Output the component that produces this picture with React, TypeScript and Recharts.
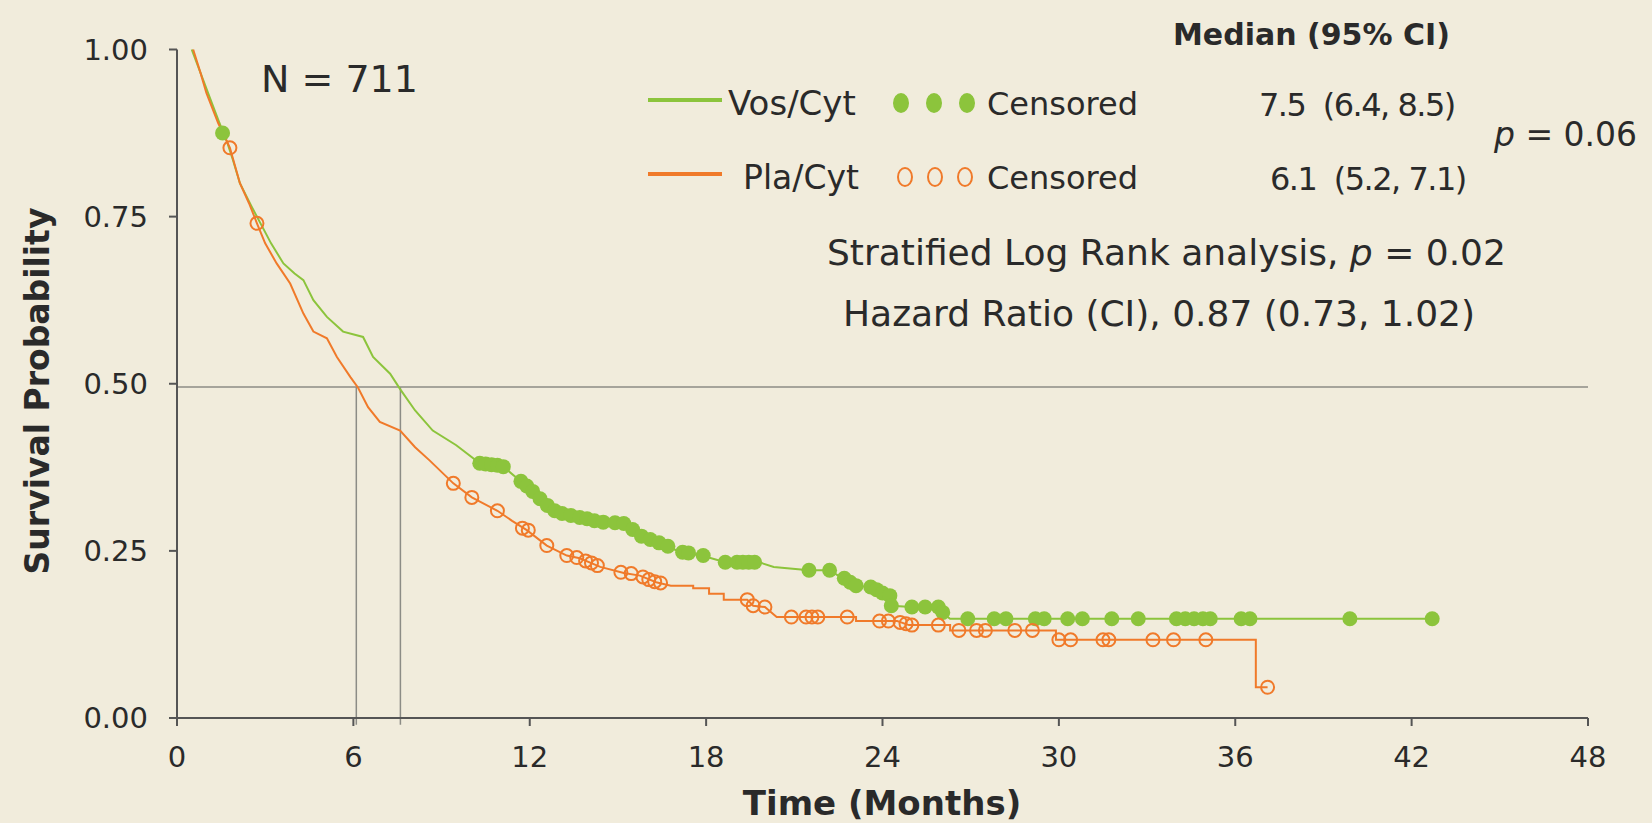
import React from 'react';
import { ComposedChart, Line, Scatter, XAxis, YAxis, ReferenceLine } from 'recharts';

// Vos/Cyt Kaplan-Meier curve (months, survival)
const vosT = [0.5, 0.8, 1.1, 1.4, 1.7, 1.9, 2.14, 2.54, 2.9, 3.2, 3.62, 4.0, 4.3, 4.64, 5.1, 5.65, 6.33, 6.67, 7.25, 7.59, 8.1, 8.7, 9.5, 10.3, 11.1, 11.67, 12.35, 12.9, 13.7, 14.4, 15.2, 15.75, 16.3, 16.8, 17.1, 17.85, 18.65, 19.8, 20.3, 21.5, 22.2, 22.56, 23.0, 23.6, 23.9, 24.26, 24.3, 25.0, 25.9, 26.07, 26.3, 42.7];
const vosS = [1.0, 0.965, 0.93, 0.895, 0.862, 0.835, 0.8, 0.765, 0.735, 0.71, 0.68, 0.665, 0.655, 0.625, 0.6, 0.578, 0.57, 0.54, 0.515, 0.492, 0.46, 0.43, 0.408, 0.381, 0.376, 0.355, 0.328, 0.308, 0.3, 0.293, 0.291, 0.273, 0.263, 0.255, 0.248, 0.243, 0.233, 0.233, 0.226, 0.221, 0.221, 0.211, 0.198, 0.196, 0.188, 0.183, 0.168, 0.166, 0.166, 0.156, 0.1485, 0.1485];

// Vos/Cyt censored
const vosCensT = [1.55, 10.3, 10.5, 10.7, 10.9, 11.1, 11.7, 11.9, 12.1, 12.35, 12.6, 12.85, 13.1, 13.4, 13.7, 13.95, 14.2, 14.5, 14.9, 15.2, 15.5, 15.8, 16.1, 16.4, 16.7, 17.2, 17.4, 17.9, 18.65, 19.05, 19.25, 19.45, 19.65, 21.5, 22.2, 22.7, 22.9, 23.1, 23.6, 23.8, 24.0, 24.25, 24.3, 25.0, 25.45, 25.9, 26.05, 26.9, 27.8, 28.2, 29.2, 29.5, 30.3, 30.8, 31.8, 32.7, 34.0, 34.3, 34.6, 34.9, 35.15, 36.2, 36.5, 39.9, 42.7];
const vosCensS = [0.875, 0.381, 0.38, 0.379, 0.378, 0.376, 0.354, 0.347, 0.339, 0.328, 0.318, 0.31, 0.306, 0.303, 0.3, 0.298, 0.295, 0.293, 0.292, 0.291, 0.282, 0.272, 0.267, 0.262, 0.257, 0.248, 0.247, 0.243, 0.233, 0.233, 0.233, 0.233, 0.233, 0.221, 0.221, 0.209, 0.203, 0.198, 0.196, 0.192, 0.187, 0.183, 0.168, 0.166, 0.166, 0.166, 0.158, 0.1485, 0.1485, 0.1485, 0.1485, 0.1485, 0.1485, 0.1485, 0.1485, 0.1485, 0.1485, 0.1485, 0.1485, 0.1485, 0.1485, 0.1485, 0.1485, 0.1485, 0.1485];

// Pla/Cyt Kaplan-Meier curve
const plaT = [0.55, 0.8, 1.0, 1.4, 1.8, 2.14, 2.45, 2.72, 3.0, 3.39, 3.85, 4.3, 4.64, 5.1, 5.44, 5.9, 6.16, 6.5, 6.9, 7.59, 8.1, 8.6, 9.4, 10.03, 10.9, 11.4, 11.9, 12.58, 13.26, 13.7, 14.4, 15.2, 15.75, 16.3, 16.8, 17.56, 17.56, 18.1, 18.1, 18.6, 18.6, 19.4, 19.6, 20.0, 20.4, 23.1, 23.1, 24.5, 24.9, 26.3, 26.3, 29.9, 29.9, 36.7, 36.7, 37.1];
const plaS = [1.0, 0.965, 0.935, 0.89, 0.853, 0.8, 0.77, 0.74, 0.71, 0.68, 0.65, 0.605, 0.578, 0.568, 0.54, 0.51, 0.494, 0.465, 0.443, 0.43, 0.405, 0.385, 0.351, 0.33, 0.31, 0.295, 0.281, 0.258, 0.243, 0.239, 0.226, 0.217, 0.213, 0.203, 0.198, 0.198, 0.194, 0.194, 0.186, 0.186, 0.177, 0.177, 0.168, 0.166, 0.151, 0.151, 0.145, 0.145, 0.139, 0.139, 0.131, 0.131, 0.117, 0.117, 0.046, 0.046];

// Pla/Cyt censored
const plaCensT = [1.8, 2.72, 9.4, 10.03, 10.9, 11.75, 11.95, 12.58, 13.26, 13.6, 13.9, 14.1, 14.3, 15.1, 15.45, 15.85, 16.05, 16.25, 16.45, 19.4, 19.6, 20.0, 20.9, 21.4, 21.6, 21.8, 22.8, 23.9, 24.2, 24.6, 24.8, 25.0, 25.9, 26.6, 27.2, 27.5, 28.5, 29.1, 30.0, 30.4, 31.5, 31.7, 33.2, 33.9, 35.0, 37.1];
const plaCensS = [0.853, 0.74, 0.351, 0.33, 0.31, 0.284, 0.281, 0.258, 0.243, 0.24, 0.235, 0.232, 0.228, 0.218, 0.216, 0.211, 0.207, 0.204, 0.202, 0.177, 0.168, 0.166, 0.151, 0.151, 0.151, 0.151, 0.151, 0.145, 0.145, 0.143, 0.141, 0.139, 0.139, 0.131, 0.131, 0.131, 0.131, 0.131, 0.117, 0.117, 0.117, 0.117, 0.117, 0.117, 0.117, 0.046];

const xTicks = [0, 6, 12, 18, 24, 30, 36, 42, 48];
const yTicks = [0, 0.25, 0.5, 0.75, 1];
const medianLevel = 0.495;
const medians = [6.1, 7.6];

const GREEN = '#8cc43c';
const ORANGE = '#f07a2a';
const BG = '#f1ecdc';
const INK = '#2a2a2a';
const FONT = '"DejaVu Sans", Verdana, sans-serif';

const zip = (t: number[], s: number[]) => t.map((v, i) => ({ t: v, s: s[i] }));

const Txt = ({ x, y, size = 32, bold = false, center = false, rotate = false, spacing = 0, children }: any) => (
    <div
        style={{
            position: 'absolute',
            left: x,
            top: y,
            transform: `translate(${center ? '-50%' : '0'}, -50%)${rotate ? ' rotate(-90deg)' : ''}`,
            fontFamily: FONT,
            fontSize: size,
            fontWeight: bold ? 'bold' : 'normal',
            letterSpacing: spacing,
            color: INK,
            whiteSpace: 'nowrap',
            lineHeight: 1,
        }}
    >
        {children}
    </div>
);

// legend marker (slightly oval, as in the slide)
const Dot = ({ x, y, filled }: { x: number; y: number; filled: boolean }) => (
    <div
        style={{
            position: 'absolute',
            left: x - 8,
            top: y - 10,
            width: 16,
            height: 20,
            boxSizing: 'border-box',
            borderRadius: '50%',
            background: filled ? GREEN : 'transparent',
            border: filled ? 'none' : `2px solid ${ORANGE}`,
        }}
    />
);

const Swatch = ({ y, color }: { y: number; color: string }) => (
    <div style={{ position: 'absolute', left: 640, top: y - 2, width: 74, height: 4, background: color }} />
);

export default function App() {
    const vosLine = zip(vosT, vosS);
    const plaLine = zip(plaT, plaS);
    const vosCens = zip(vosCensT, vosCensS);
    const plaCens = zip(plaCensT, plaCensS);

    const tick = { fill: INK, fontSize: 29, fontFamily: FONT };

    return (
        <div style={{ position: 'fixed', left: 0, top: 0, width: 1652, height: 823, background: BG, overflow: 'hidden' }}>
            <div style={{ position: 'absolute', left: 8, top: 8, width: 1636, height: 807 }}>
                <ComposedChart width={1636} height={807} margin={{ top: 41.5, right: 56, bottom: 37, left: 0 }}>
                    <XAxis
                        type="number"
                        dataKey="t"
                        domain={[0, 48]}
                        ticks={xTicks}
                        allowDataOverflow
                        height={60}
                        stroke="#555"
                        strokeWidth={2}
                        tickSize={8}
                        tickMargin={20}
                        tick={tick}
                    />
                    <YAxis
                        type="number"
                        dataKey="s"
                        domain={[0, 1]}
                        ticks={yTicks}
                        width={169}
                        stroke="#555"
                        strokeWidth={2}
                        tickSize={8}
                        tickMargin={21}
                        tick={tick}
                        tickFormatter={(v: number) => v.toFixed(2)}
                    />
                    <ReferenceLine segment={[{ x: 0, y: medianLevel }, { x: 48, y: medianLevel }]} stroke="#8c8c86" strokeWidth={1.5} />
                    {medians.map((m) => (
                        <ReferenceLine key={m} segment={[{ x: m, y: -0.01 }, { x: m, y: medianLevel }]} ifOverflow="visible" stroke="#8c8c86" strokeWidth={1.5} />
                    ))}
                    <Line data={vosLine} dataKey="s" type="linear" stroke={GREEN} strokeWidth={2} dot={false} isAnimationActive={false} />
                    <Line data={plaLine} dataKey="s" type="linear" stroke={ORANGE} strokeWidth={2} dot={false} isAnimationActive={false} />
                    <Scatter
                        data={vosCens}
                        dataKey="s"
                        isAnimationActive={false}
                        shape={(p: any) => <circle cx={p.cx} cy={p.cy} r={7.5} fill={GREEN} />}
                    />
                    <Scatter
                        data={plaCens}
                        dataKey="s"
                        isAnimationActive={false}
                        shape={(p: any) => <circle cx={p.cx} cy={p.cy} r={6.5} fill="none" stroke={ORANGE} strokeWidth={2} />}
                    />
                </ComposedChart>

                <Txt x={29} y={383} size={33} bold center rotate>Survival Probability</Txt>
                <Txt x={874} y={795} size={34} bold center>Time (Months)</Txt>

                <Txt x={253} y={71} size={38}>N = 711</Txt>
                <Txt x={1165} y={27} size={30} bold>Median (95% CI)</Txt>

                <Swatch y={92} color={GREEN} />
                <Txt x={720} y={95} size={34}>Vos/Cyt</Txt>
                <Dot x={893} y={95} filled />
                <Dot x={926} y={95} filled />
                <Dot x={959} y={95} filled />
                <Txt x={979} y={96}>Censored</Txt>
                <Txt x={1251} y={97} size={32} spacing={-1.5}>7.5&nbsp;&nbsp;(6.4, 8.5)</Txt>

                <Swatch y={166} color={ORANGE} />
                <Txt x={735} y={169} size={33}>Pla/Cyt</Txt>
                <Dot x={897} y={169} filled={false} />
                <Dot x={927} y={169} filled={false} />
                <Dot x={957} y={169} filled={false} />
                <Txt x={979} y={170}>Censored</Txt>
                <Txt x={1262} y={171} size={32} spacing={-1.5}>6.1&nbsp;&nbsp;(5.2, 7.1)</Txt>

                <Txt x={1486} y={126} size={33}><i>p</i> = 0.06</Txt>
                <Txt x={819} y={245} size={36}>Stratified Log Rank analysis, <i>p</i> = 0.02</Txt>
                <Txt x={835} y={306} size={36}>Hazard Ratio (CI), 0.87 (0.73, 1.02)</Txt>
            </div>
        </div>
    );
}
